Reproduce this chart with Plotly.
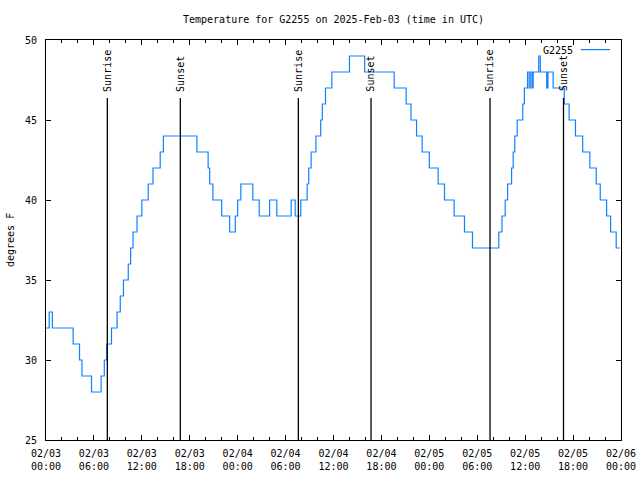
import pandas as pd
import plotly.graph_objects as go

# ---- data (hours since 2025-02-03 00:00 UTC, temperature in degrees F) ----
step_hours = [0.0, 0.4, 0.8, 3.4, 4.2, 4.5, 5.7, 6.9, 7.3, 7.6, 8.2, 8.9, 9.3, 9.7,
              10.3, 10.6, 10.9, 11.4, 12.0, 12.8, 13.4, 14.3, 14.7, 18.9, 20.3, 20.5,
              20.9, 22.0, 23.0, 23.7, 24.0, 24.4, 25.9, 26.7, 28.0, 28.9, 30.7, 31.2,
              31.9, 32.7, 32.9, 33.2, 33.8, 34.4, 34.6, 35.0, 35.8, 38.0, 39.9, 43.6,
              45.1, 45.7, 46.4, 47.1, 48.0, 49.1, 49.9, 51.1, 52.4, 53.4, 56.7, 57.1,
              57.5, 57.8, 58.3, 58.5, 58.7, 59.0, 59.7, 59.9, 60.3, 60.5, 60.7, 60.9,
              61.0, 61.7, 61.9, 62.7, 62.85, 63.5, 64.9, 65.5, 66.3, 67.2, 68.1, 68.9,
              69.4, 70.2, 70.7, 71.4, 71.85]
temps_f = [32, 33, 32, 31, 30, 29, 28, 29, 30, 31, 32, 33, 34, 35,
           36, 37, 38, 39, 40, 41, 42, 43, 44, 43, 42, 41,
           40, 39, 38, 39, 40, 41, 40, 39, 40, 39, 40, 39,
           40, 41, 42, 43, 44, 45, 46, 47, 48, 49, 48, 47,
           46, 45, 44, 43, 42, 41, 40, 39, 38, 37, 38, 39,
           40, 41, 42, 43, 44, 45, 46, 47, 48, 47, 48, 47,
           48, 49, 48, 47, 48, 47, 46, 45, 44, 43, 42, 41,
           40, 39, 38, 37, 37]

sun_labels = ["Sunrise", "Sunset", "Sunrise", "Sunset", "Sunrise", "Sunset"]
sun_hours = [7.68, 16.82, 31.6, 40.7, 55.6, 64.8]

y_ticks = [25, 30, 35, 40, 45, 50]
series_name = "G2255"
title_text = "Temperature for G2255 on 2025-Feb-03 (time in UTC)"
y_title = "degrees F"

# ---- build ----
base = pd.Timestamp("2025-02-03 00:00")
times = [base + pd.Timedelta(hours=h) for h in step_hours]
sun_times = [base + pd.Timedelta(hours=h) for h in sun_hours]

FONT = "DejaVu Sans Mono"
LINE_COLOR = "#1080ff"

fig = go.Figure()
fig.add_trace(go.Scatter(
    x=times, y=temps_f, mode="lines", name=series_name, showlegend=False,
    line=dict(color=LINE_COLOR, width=1.2, shape="hv"),
))

shapes = []
annotations = []
for lab, t in zip(sun_labels, sun_times):
    shapes.append(dict(type="line", xref="x", yref="paper", x0=t, x1=t, y0=0, y1=0.855,
                       line=dict(color="black", width=1.3)))
    annotations.append(dict(text=lab, x=t, xref="x", y=0.866, yref="paper",
                            xanchor="center", yanchor="bottom", textangle=-90,
                            showarrow=False, font=dict(family=FONT, size=10, color="black")))

# legend (gnuplot style: text then line sample)
annotations.append(dict(text=series_name, x=0.920, xref="paper", y=0.975, yref="paper",
                        xanchor="right", yanchor="middle", showarrow=False,
                        font=dict(family=FONT, size=10, color="black")))
shapes.append(dict(type="line", xref="paper", yref="paper", x0=0.930, x1=0.981,
                   y0=0.976, y1=0.976, line=dict(color=LINE_COLOR, width=1.2)))

# y axis title
annotations.append(dict(text=y_title, x=-0.0626, xref="paper", y=0.5, yref="paper",
                        xanchor="center", yanchor="middle", textangle=-90, showarrow=False,
                        font=dict(family=FONT, size=10, color="black")))

fig.update_layout(
    width=640, height=480,
    margin=dict(l=46, r=19, t=40, b=40, autoexpand=False),
    paper_bgcolor="white", plot_bgcolor="white",
    font=dict(family=FONT, size=10, color="black"),
    title=dict(text=title_text, x=0.5, xref="paper", y=1 - 19 / 480, yanchor="middle",
               font=dict(family=FONT, size=10, color="black")),
    shapes=shapes, annotations=annotations,
    showlegend=False,
)
fig.update_xaxes(
    type="date", range=[base, base + pd.Timedelta(hours=72)], automargin=False,
    tick0=base, dtick=6 * 3600 * 1000, tickformat="%m/%d<br>%H:%M",
    ticks="inside", ticklen=5, tickcolor="black", tickwidth=1,
    showline=True, linecolor="black", linewidth=1, mirror="ticks",
    showgrid=False, zeroline=False, ticklabelstandoff=4,
    minor=dict(dtick=2 * 3600 * 1000, tick0=base, ticks="inside", ticklen=3,
               tickcolor="black", showgrid=False),
    tickfont=dict(family=FONT, size=10, color="black"),
)
fig.update_yaxes(
    range=[25, 50], tickvals=y_ticks, automargin=False,
    ticks="inside", ticklen=5, tickcolor="black", tickwidth=1,
    showline=True, linecolor="black", linewidth=1, mirror="ticks",
    showgrid=False, zeroline=False, ticklabelstandoff=6,
    tickfont=dict(family=FONT, size=10, color="black"),
)

fig.write_html("out.html")
